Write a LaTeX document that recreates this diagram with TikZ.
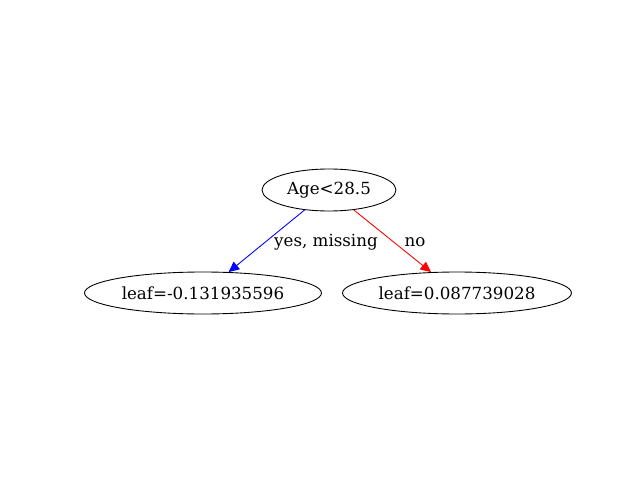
\documentclass[tikz,border=0pt]{standalone}
\usepackage{fontspec}
\setmainfont{DejaVu Serif}
\usetikzlibrary{shapes.geometric,arrows.meta}

\tikzset{
	treenode/.style={draw, ellipse, line width=0.5pt, inner sep=0pt, minimum height=0.84cm, font=\fontsize{9.5}{11}\selectfont},
	branch/.style={line width=0.5pt, -{Triangle[length=6pt, width=5.5pt]}},
	branchlabel/.style={font=\fontsize{9.5}{11}\selectfont, inner sep=0pt}
}

\begin{document}
\begin{tikzpicture}[x=0.02cm, y=-0.02cm]
		\useasboundingbox (0, 0) rectangle (640, 480);
		
		\node[treenode, minimum width=2.68cm] (age) at (329, 190) {Age<28.5};
		\node[treenode, minimum width=4.74cm] (leafyes) at (203, 293) {leaf=-0.131935596};
		\node[treenode, minimum width=4.58cm] (leafno) at (457, 293) {leaf=0.087739028};
		
		\draw[branch, blue] (age) -- (leafyes);
		\draw[branch, red] (age) -- (leafno);
		
		\node[branchlabel] (yeslabel) at (326, 242) {yes, missing};
		\node[branchlabel] (nolabel) at (415, 242) {no};
	\end{tikzpicture}
\end{document}
